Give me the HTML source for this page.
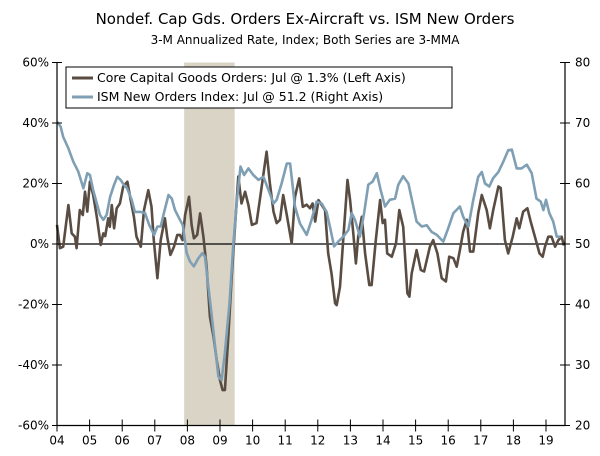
<!DOCTYPE html>
<html><head><meta charset="utf-8"><style>
body{margin:0;background:#fff;font-family:"DejaVu Sans","Liberation Sans",sans-serif;}
svg text{font-family:"DejaVu Sans","Liberation Sans",sans-serif;fill:#000;}
</style></head><body>
<svg id="chart" width="600" height="452" xmlns="http://www.w3.org/2000/svg">
<text x="305" y="24" text-anchor="middle" font-size="15">Nondef. Cap Gds. Orders Ex-Aircraft vs. ISM New Orders</text>
<text x="305" y="44" text-anchor="middle" font-size="12">3-M Annualized Rate, Index; Both Series are 3-MMA</text>
<g id="plot"></g>
</svg>
<script>
const yearLabels=["04","05","06","07","08","09","10","11","12","13","14","15","16","17","18","19"];
const leftTicks=[60,40,20,0,-20,-40,-60];
const rightTicks=[80,70,60,50,40,30,20];
const recession=[2007.9,2009.45];
const coreDates=[2004.0,2004.09,2004.19,2004.35,2004.45,2004.55,2004.6,2004.7,2004.79,2004.86,2004.93,2005.01,2005.11,2005.22,2005.34,2005.42,2005.48,2005.57,2005.62,2005.68,2005.75,2005.83,2005.93,2006.03,2006.16,2006.26,2006.36,2006.44,2006.57,2006.67,2006.8,2006.9,2006.97,2007.08,2007.18,2007.31,2007.38,2007.48,2007.59,2007.69,2007.77,2007.85,2007.93,2008.05,2008.13,2008.2,2008.3,2008.39,2008.49,2008.59,2008.69,2008.8,2008.9,2009.0,2009.08,2009.15,2009.26,2009.36,2009.46,2009.56,2009.66,2009.77,2009.87,2009.98,2010.12,2010.22,2010.43,2010.53,2010.64,2010.74,2010.84,2010.94,2011.05,2011.2,2011.3,2011.43,2011.54,2011.66,2011.76,2011.84,2011.92,2012.02,2012.12,2012.22,2012.32,2012.42,2012.53,2012.58,2012.68,2012.78,2012.91,2012.99,2013.09,2013.17,2013.24,2013.35,2013.45,2013.58,2013.65,2013.78,2013.91,2013.99,2014.06,2014.13,2014.27,2014.4,2014.5,2014.62,2014.75,2014.81,2014.88,2015.03,2015.16,2015.26,2015.44,2015.54,2015.67,2015.8,2015.93,2016.03,2016.16,2016.26,2016.36,2016.46,2016.57,2016.67,2016.77,2016.92,2017.03,2017.18,2017.28,2017.38,2017.54,2017.61,2017.74,2017.84,2017.98,2018.1,2018.18,2018.3,2018.43,2018.53,2018.66,2018.8,2018.9,2018.97,2019.07,2019.17,2019.28,2019.38,2019.48,2019.55];
const coreValues=[6.3,-1.4,-0.9,12.9,3.5,2.4,-1.4,11.2,9.6,17.3,10.7,20.6,16.2,9,-0.3,3.5,2.6,8.5,5.7,12.9,5.2,11.8,13.4,19,20.6,14.5,9,2.4,-0.9,11.2,17.8,12.3,1.3,-11.3,1.3,8.5,2.4,-3.6,-0.9,3,3,1.3,9.6,15.6,6.3,1.9,3,10.1,2.4,-7.5,-24,-30.6,-38.3,-45,-48.3,-48.3,-29.5,-10.8,5.7,22.3,13.4,17.3,12.9,6.3,6.9,14.5,30.5,20,10.7,6.9,8,16.2,9.6,0.2,15.6,21.7,12.3,13,11.8,13.4,7.4,14.5,12.9,11.2,-3.1,-9.7,-19.6,-20.2,-14.1,1.3,21.2,14.5,3.5,-6.4,2.4,9,-3.1,-13.6,-13.6,1.3,14.5,6.9,8,-3.1,-4.2,0.2,11.2,5.7,-16.3,-17.4,-9.7,-2,-8.6,-9.1,-0.9,1.3,-3.1,-11.3,-12.4,-4.2,-4.7,-7.5,-2,4.1,8,-2.5,-2.5,10.1,16.2,11.2,5.2,11.2,19,18.5,1.3,-3.1,2.4,8.5,5.2,10.7,11.8,7.4,2.4,-3.1,-4.2,-0.9,2.4,2.4,-0.9,1.3,2.4,-0.5,1.5];
const ismDates=[2004.01,2004.11,2004.19,2004.35,2004.5,2004.65,2004.81,2004.93,2005.01,2005.11,2005.22,2005.32,2005.42,2005.52,2005.63,2005.75,2005.85,2005.95,2006.05,2006.15,2006.29,2006.39,2006.55,2006.7,2006.83,2006.98,2007.08,2007.18,2007.28,2007.42,2007.52,2007.62,2007.75,2007.86,2007.98,2008.08,2008.2,2008.33,2008.46,2008.54,2008.64,2008.74,2008.85,2008.95,2009.05,2009.15,2009.29,2009.41,2009.53,2009.63,2009.74,2009.87,2010.02,2010.18,2010.33,2010.49,2010.64,2010.74,2010.89,2011.05,2011.15,2011.3,2011.45,2011.66,2011.81,2011.96,2012.12,2012.27,2012.37,2012.5,2012.63,2012.78,2012.94,2013.04,2013.14,2013.29,2013.42,2013.55,2013.68,2013.81,2013.93,2014.06,2014.21,2014.37,2014.47,2014.62,2014.78,2014.91,2015.03,2015.19,2015.34,2015.49,2015.65,2015.85,2016.0,2016.16,2016.36,2016.46,2016.62,2016.77,2016.92,2017.03,2017.13,2017.26,2017.38,2017.54,2017.69,2017.84,2017.95,2018.1,2018.25,2018.41,2018.56,2018.71,2018.84,2018.92,2019.0,2019.1,2019.22,2019.33,2019.45,2019.55];
const ismValues=[70.2,69.4,67.7,65.8,63.6,62,59.2,61.7,61.4,58.9,56.7,54.8,54,54.8,57.8,59.8,61.1,60.6,59.8,59.2,57.3,55.3,55.3,55.1,53.1,51.5,52.9,52.9,55.1,58.1,57.5,55.6,54.2,53.1,48.5,47.1,46.3,47.6,48.5,47.9,43,38.5,33,28.1,27.5,32,40.2,50.1,57.8,62.8,61.4,62.5,61.4,60.6,61.1,58.9,56.7,57.3,60,63.3,63.3,56.2,53.4,51.5,54,57,56.7,55.3,52.9,49.6,50.4,51.2,52.3,55.1,54,51.2,55.1,59.8,60.3,61.7,58.9,56.2,57.3,57.5,59.8,61.2,60,56.7,53.7,52.9,53.1,52,51.5,50.4,52.6,55.1,56.2,54.5,52.9,57.3,61.1,61.9,60,59.5,60.9,61.9,63.6,65.5,65.6,62.5,62.5,63.1,61.7,57.5,57,55.6,57.3,55.1,53.7,51.2,51.2];

const NS="http://www.w3.org/2000/svg";
const plot=document.getElementById('plot');
const L=57,R=565,T=62.5,B=425.5;
const xS=y=>L+(y-2004)*32.6;
const yL=v=>244-v/20*60.5;
const yR=v=>yL((v-50)*2);
function mk(tag,attrs,parent){const e=document.createElementNS(NS,tag);for(const k in attrs)e.setAttribute(k,attrs[k]);(parent||plot).appendChild(e);return e;}

const rec=mk('rect',{x:xS(recession[0]),y:T,width:xS(recession[1])-xS(recession[0]),height:B-T,fill:'#d9d4c5'});



const zl=mk('line',{x1:L,x2:R,y1:yL(0),y2:yL(0),stroke:'#000','stroke-width':1.2});



function series(dates,vals,fy,color,name){
  const d=dates.map((t,i)=>(i?'L':'M')+xS(t).toFixed(1)+','+fy(vals[i]).toFixed(1)).join('');
  const p=mk('path',{d:d,fill:'none',stroke:color,'stroke-width':2.6,'stroke-linejoin':'round'});
  
  
}
series(coreDates,coreValues,yL,'#594c42','core-capital-goods-line');
series(ismDates,ismValues,yR,'#7f9fb4','ism-new-orders-line');

const ax=mk('path',{d:`M${L},${T}V${B}H${R}V${T}`,fill:'none',stroke:'#000','stroke-width':1.2});


leftTicks.forEach(v=>{
  mk('line',{x1:L-5,x2:L+5,y1:yL(v),y2:yL(v),stroke:'#000'});
  const t=mk('text',{x:L-8,y:yL(v)+4,'text-anchor':'end','font-size':12});
  t.textContent=v+'%';
  
  
});
rightTicks.forEach(v=>{
  mk('line',{x1:R-5,x2:R+5,y1:yR(v),y2:yR(v),stroke:'#000'});
  const t=mk('text',{x:R+10,y:yR(v)+4,'font-size':12});
  t.textContent=v;
  
  
});
yearLabels.forEach((lab,i)=>{
  const x=xS(2004+i);
  mk('line',{x1:x,x2:x,y1:B-6,y2:B+6,stroke:'#000'});
  const t=mk('text',{x:x,y:B+19,'text-anchor':'middle','font-size':12});
  t.textContent=lab;
  
  
});

const lg=mk('g',{});


mk('rect',{x:66,y:67,width:386,height:41,fill:'#fff',stroke:'#000'},lg);
mk('line',{x1:72,x2:93,y1:78,y2:78,stroke:'#594c42','stroke-width':3},lg);
mk('line',{x1:72,x2:93,y1:97,y2:97,stroke:'#7f9fb4','stroke-width':3},lg);
const t1=mk('text',{x:97,y:82,'font-size':12.5},lg);
t1.textContent='Core Capital Goods Orders: Jul @ 1.3% (Left Axis)';


const t2=mk('text',{x:97,y:101,'font-size':12.5},lg);
t2.textContent='ISM New Orders Index: Jul @ 51.2 (Right Axis)';


</script>
</body></html>
